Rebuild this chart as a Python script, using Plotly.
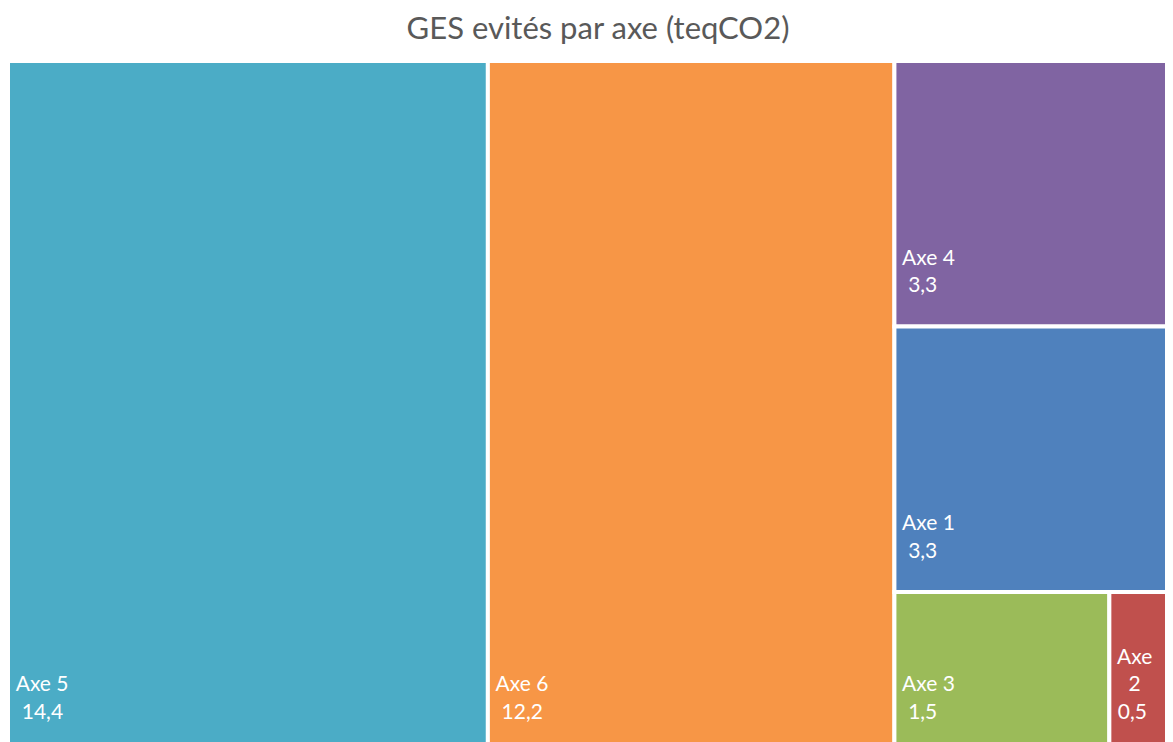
import plotly.graph_objects as go

labels = ["Axe 5", "Axe 6", "Axe 4", "Axe 1", "Axe 3", "Axe 2"]
values = [14.4, 12.2, 3.3, 3.3, 1.5, 0.5]
value_text = ["14,4", "12,2", "3,3", "3,3", "1,5", "0,5"]
colors = ["#4BACC6", "#F79646", "#8064A2", "#4F81BD", "#9BBB59", "#C0504D"]

NB = "\u00a0"
texts = []
for lab, vt in zip(labels, value_text):
    if lab == "Axe 2":
        texts.append(NB + "Axe<br>" + NB * 3 + "2<br>" + NB + vt + "<br>" + NB)
    else:
        texts.append(NB + lab + "<br>" + NB * 2 + vt + "<br>" + NB)

fig = go.Figure(go.Treemap(
    labels=labels,
    parents=[""] * len(labels),
    values=values,
    text=texts,
    texttemplate="%{text}",
    textposition="bottom left",
    textfont=dict(family="Lato, Open Sans, sans-serif", size=21, color="white"),
    marker=dict(colors=colors, line=dict(color="white", width=4),
                pad=dict(t=0, l=0, r=0, b=0)),
    tiling=dict(squarifyratio=1, pad=0),
    pathbar=dict(visible=False),
    sort=True,
    hoverinfo="label+value",
))

fig.update_layout(
    width=1173, height=745,
    margin=dict(l=0, r=0, t=53, b=0),
    paper_bgcolor="white",
    title=dict(text="GES evités par axe (teqCO2)", x=0.503, xanchor="center",
               y=0.988, yanchor="top",
               font=dict(family="Lato, Open Sans, sans-serif", size=31, color="#595959")),
)

fig.write_html("out.html")
